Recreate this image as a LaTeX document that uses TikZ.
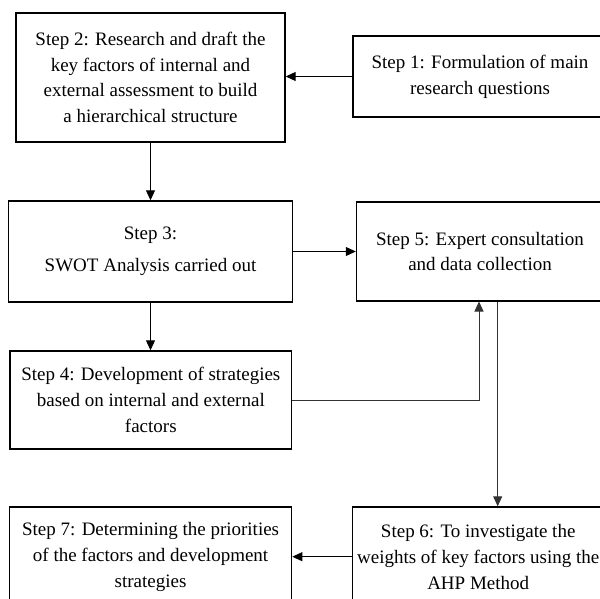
\documentclass[tikz,border=0pt]{standalone}
\usepackage{fontspec}
\setmainfont{Liberation Serif}
\usetikzlibrary{arrows.meta}
\begin{document}
\begin{tikzpicture}[x=1pt,y=-1pt,
  stepbox/.style={draw=black, line width=1.4pt, rectangle, align=center, inner sep=0pt,
    font=\fontsize{19}{25.8}\selectfont},
  arr/.style={line width=1pt, draw=black, -{Triangle[length=10pt,width=9pt]}},
  garr/.style={line width=1pt, draw=black!80, -{Triangle[length=10pt,width=9pt]}},
]
\useasboundingbox (0,0) rectangle (600,599);
\clip (0,0) rectangle (600,599);
\node[stepbox, minimum width=269pt, minimum height=129pt] (s2) at (150.5,77.5)
  {Step 2: Research and draft the\\ key factors of internal and\\ external assessment to build\\ a hierarchical structure};
\node[stepbox, minimum width=254pt, minimum height=81pt] (s1) at (480,76.5)
  {Step 1: Formulation of main\\ research questions};
\node[stepbox, minimum width=284pt, minimum height=101pt] (s3) at (150.5,251.5)
  {Step 3:\\[6pt] SWOT Analysis carried out};
\node[stepbox, minimum width=247pt, minimum height=99pt] (s5) at (480,251.5)
  {Step 5: Expert consultation\\ and data collection};
\node[stepbox, minimum width=281.7pt, minimum height=98pt] (s4) at (150.8,400)
  {Step 4: Development of strategies\\ based on internal and external\\ factors};
\node[stepbox, minimum width=282pt, minimum height=99.4pt] (s7) at (150.6,556.7)
  {Step 7: Determining the priorities\\ of the factors and development\\ strategies};
\node[stepbox, minimum width=251pt, minimum height=99.4pt] (s6) at (478.2,556.7)
  {Step 6: To investigate the\\ weights of key factors using the\\ AHP Method};
\coordinate (up) at (479,301.5);
\coordinate (dn) at (497.7,301.5);
\draw[arr] (s1.west) -- (s1.west -| s2.east);
\draw[arr] (s2.south) -- (s2.south |- s3.north);
\draw[arr] (s3.east) -- (s3.east -| s5.west);
\draw[arr] (s3.south) -- (s3.south |- s4.north);
\draw[garr] (s4.east) -| (up);
\draw[garr] (dn) -- (dn |- s6.north);
\draw[arr] (s6.west) -- (s6.west -| s7.east);
\end{tikzpicture}
\end{document}
